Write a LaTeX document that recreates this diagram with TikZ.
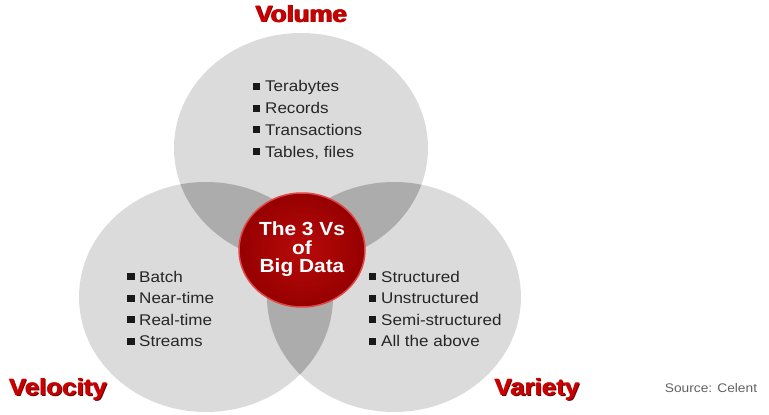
\documentclass[tikz,border=0pt]{standalone}
\usepackage{fontspec}
\setmainfont[FakeStretch=1.1]{Liberation Sans}
\usetikzlibrary{shapes.geometric}
\definecolor{cgray}{RGB}{219,219,219}
\definecolor{cdark}{RGB}{172,172,172}
\definecolor{vred}{RGB}{200,0,0}
\definecolor{vshadow}{RGB}{95,0,0}
\definecolor{cinner}{RGB}{185,10,10}
\definecolor{couter}{RGB}{150,0,0}
\definecolor{crim}{RGB}{225,70,70}
\begin{document}
\begin{tikzpicture}[x=1pt,y=-1pt,
  vtitle/.style={font=\fontsize{23.5}{24}\selectfont\bfseries, text=vred, inner sep=0, anchor=base},
  vshade/.style={vtitle, text=vshadow},
  item/.style={font=\fontsize{15.5}{18}\selectfont, text=black!85, anchor=base west, inner sep=0},
  bul/.style={rectangle, fill=black!90, minimum width=7.5pt, minimum height=7pt, inner sep=0},
  core/.style={font=\fontsize{19}{20}\selectfont\bfseries, text=white, anchor=base, inner sep=0},
  bigset/.style={x radius=127pt, y radius=115pt}
]
\useasboundingbox (0,0) rectangle (769,415);
\coordinate (ct) at (301,148);
\coordinate (cl) at (206,297);
\coordinate (cr) at (394,297);
% sets
\fill[cgray] (ct) ellipse[bigset] (cl) ellipse[bigset] (cr) ellipse[bigset];
\begin{scope}
  \clip (ct) ellipse[bigset];
  \fill[cdark] (cl) ellipse[bigset] (cr) ellipse[bigset];
\end{scope}
\begin{scope}
  \clip (cl) ellipse[bigset];
  \fill[cdark] (cr) ellipse[bigset];
\end{scope}
% centre
\node[ellipse, minimum width=126pt, minimum height=114pt, inner sep=0,
      inner color=cinner, outer color=couter, draw=crim, line width=1.5pt] (core) at (302,250) {};
\node[core] (c1) at (302,235) {The 3 Vs};
\node[core] (c2) at (302,254) {of};
\node[core] (c3) at (302,272) {Big Data};
% titles (shadow, then doubled red for a heavier face)
\node[vshade] (volS) at (302.1,23) {Volume};
\node[vtitle] (volA) at (300.6,22) {Volume};
\node[vtitle] (vol) at (301.4,22) {Volume};
\node[vshade] (velS) at (59.1,396) {Velocity};
\node[vtitle] (velA) at (57.6,395) {Velocity};
\node[vtitle] (vel) at (58.4,395) {Velocity};
\node[vshade] (varS) at (538.1,396) {Variety};
\node[vtitle] (varA) at (536.6,395) {Variety};
\node[vtitle] (var) at (537.4,395) {Variety};
% lists
\foreach \t [count=\i] in {Terabytes,Records,Transactions,{Tables, files}} {
  \pgfmathsetmacro\yb{70+21.8*\i}
  \node[bul] (tb\i) at (256.5,\yb-5.5) {};
  \node[item] (tt\i) at (265,\yb) {\t};
}
\foreach \t [count=\i] in {Batch,Near-time,Real-time,Streams} {
  \pgfmathsetmacro\yb{260.5+21.6*\i}
  \node[bul] (lb\i) at (131,\yb-5.5) {};
  \node[item] (lt\i) at (139,\yb) {\t};
}
\foreach \t [count=\i] in {Structured,Unstructured,Semi-structured,All the above} {
  \pgfmathsetmacro\yb{260.5+21.6*\i}
  \node[bul] (rb\i) at (372.5,\yb-5.5) {};
  \node[item] (rt\i) at (381,\yb) {\t};
}
% source
\node[font=\fontsize{12.5}{13}\selectfont, text=black!62, anchor=base, inner sep=0] (src) at (711,392) {Source: Celent};
\end{tikzpicture}
\end{document}
